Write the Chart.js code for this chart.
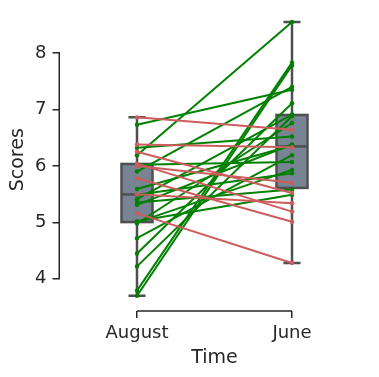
<!DOCTYPE html>
<html><head><meta charset="utf-8">
<script src="https://cdn.jsdelivr.net/npm/chart.js@4.4.1/dist/chart.umd.min.js"></script>
<style>html,body{margin:0;padding:0;background:#fff}canvas{display:block}</style>
</head><body>
<canvas id="c" width="379" height="377"></canvas>
<script>
// ---- data ----
const categories = ['August', 'June'];
const august = [6.86, 6.38, 6.25, 6.04, 6.00, 5.78, 5.50, 5.16,
                6.19, 6.73, 3.79, 3.70, 5.90, 5.41, 4.45, 4.22, 4.98, 6.32, 5.59, 4.72, 5.31, 5.00, 5.49, 6.02, 5.35, 5.02];
const june   = [6.64, 6.33, 5.52, 5.19, 5.70, 5.01, 5.34, 4.28,
                8.55, 7.35, 7.83, 7.78, 7.40, 6.91, 7.11, 6.88, 6.76, 6.52, 6.36, 6.19, 6.38, 5.93, 5.87, 6.07, 5.58, 5.49];
const yTicks = [4, 5, 6, 7, 8];
const yLimits = [3.43, 8.79];
const xTitle = 'Time';
const yTitle = 'Scores';

// ---- style ----
const UP = '#008000', DOWN = '#cd5c5c';
const AXIS = '#262626', BOXEDGE = '#4f4f4f', BOXFILL = '#788394';
const BOX_W = 0.2, CAP_W = 0.11;
const FONT = 'DejaVu Sans';

function quantile(sorted, q) {
  const pos = (sorted.length - 1) * q, lo = Math.floor(pos), hi = Math.ceil(pos);
  return sorted[lo] + (sorted[hi] - sorted[lo]) * (pos - lo);
}
function stats(vals) {
  const s = [...vals].sort((a, b) => a - b);
  const q1 = quantile(s, 0.25), med = quantile(s, 0.5), q3 = quantile(s, 0.75);
  const iqr = q3 - q1;
  const lo = s.filter(v => v >= q1 - 1.5 * iqr)[0];
  const inside = s.filter(v => v <= q3 + 1.5 * iqr);
  const hi = inside[inside.length - 1];
  return {q1, med, q3, lo, hi};
}

const datasets = august.map((a, i) => {
  const col = june[i] > a ? UP : DOWN;
  return {
    data: [{x: 0, y: a}, {x: 1, y: june[i]}],
    borderColor: col, backgroundColor: col,
    borderWidth: 2, pointRadius: 2.2, pointBorderWidth: 0,
    pointHoverRadius: 2.2, tension: 0
  };
});

const boxPlugin = {
  id: 'boxes',
  beforeDatasetsDraw(chart) {
    const {ctx, scales: {x, y}, chartArea} = chart;
    ctx.save();
    // trimmed spines
    ctx.strokeStyle = AXIS; ctx.lineWidth = 1.5; ctx.lineCap = 'butt';
    const lx = chartArea.left - 0.25;
    ctx.beginPath();
    ctx.moveTo(lx, y.getPixelForValue(yTicks[0]));
    ctx.lineTo(lx, y.getPixelForValue(yTicks[yTicks.length - 1]));
    ctx.stroke();
    const by = chartArea.bottom;
    ctx.beginPath();
    ctx.moveTo(x.getPixelForValue(0), by);
    ctx.lineTo(x.getPixelForValue(categories.length - 1), by);
    ctx.stroke();
    // boxes
    [august, june].forEach((vals, i) => {
      const s = stats(vals);
      const xc = x.getPixelForValue(i);
      const hw = x.getPixelForValue(i + BOX_W / 2) - xc;
      const cw = x.getPixelForValue(i + CAP_W / 2) - xc;
      const yq1 = y.getPixelForValue(s.q1), yq3 = y.getPixelForValue(s.q3);
      const ym = y.getPixelForValue(s.med);
      const ylo = y.getPixelForValue(s.lo), yhi = y.getPixelForValue(s.hi);
      ctx.lineWidth = 2.5; ctx.strokeStyle = BOXEDGE;
      ctx.beginPath();
      ctx.moveTo(xc, yq1); ctx.lineTo(xc, ylo);
      ctx.moveTo(xc, yq3); ctx.lineTo(xc, yhi);
      ctx.moveTo(xc - cw, ylo); ctx.lineTo(xc + cw, ylo);
      ctx.moveTo(xc - cw, yhi); ctx.lineTo(xc + cw, yhi);
      ctx.stroke();
      ctx.fillStyle = BOXFILL;
      ctx.fillRect(xc - hw, yq3, 2 * hw, yq1 - yq3);
      ctx.strokeRect(xc - hw, yq3, 2 * hw, yq1 - yq3);
      ctx.beginPath();
      ctx.moveTo(xc - hw, ym); ctx.lineTo(xc + hw, ym);
      ctx.stroke();
    });
    ctx.restore();
  }
};

Chart.defaults.font.family = FONT;
Chart.defaults.color = AXIS;

new Chart(document.getElementById('c'), {
  type: 'line',
  data: {datasets},
  plugins: [boxPlugin],
  options: {
    responsive: false, animation: false, devicePixelRatio: 1,
    layout: {padding: {top: 8.4, right: 9.5, left: 0, bottom: 0}},
    plugins: {legend: {display: false}, tooltip: {enabled: false}},
    scales: {
      x: {
        type: 'linear', min: -0.5, max: categories.length - 0.5,
        afterBuildTicks: sc => { sc.ticks = categories.map((c, i) => ({value: i})); },
        afterFit: sc => { sc.height = 66; sc.paddingLeft = 0; sc.paddingRight = 0; },
        ticks: {callback: v => categories[v], font: {size: 18}, color: AXIS, padding: 5, maxRotation: 0, autoSkip: false},
        grid: {display: true, drawOnChartArea: false, drawTicks: true, tickLength: 7, color: AXIS, lineWidth: 1.5},
        border: {display: false},
        title: {display: true, text: xTitle, font: {size: 19}, color: AXIS, padding: {top: 0, bottom: 8}}
      },
      y: {
        type: 'linear', min: yLimits[0], max: yLimits[1],
        afterBuildTicks: sc => { sc.ticks = yTicks.map(v => ({value: v})); },
        afterFit: sc => { sc.width = 59.5; sc.paddingTop = 0; sc.paddingBottom = 0; },
        ticks: {font: {size: 18}, color: AXIS, padding: 6},
        grid: {display: true, drawOnChartArea: false, drawTicks: true, tickLength: 7, color: AXIS, lineWidth: 1.5},
        border: {display: false},
        title: {display: true, text: yTitle, font: {size: 19}, color: AXIS, padding: {top: 7, bottom: 0}}
      }
    }
  }
});
</script>
</body></html>
